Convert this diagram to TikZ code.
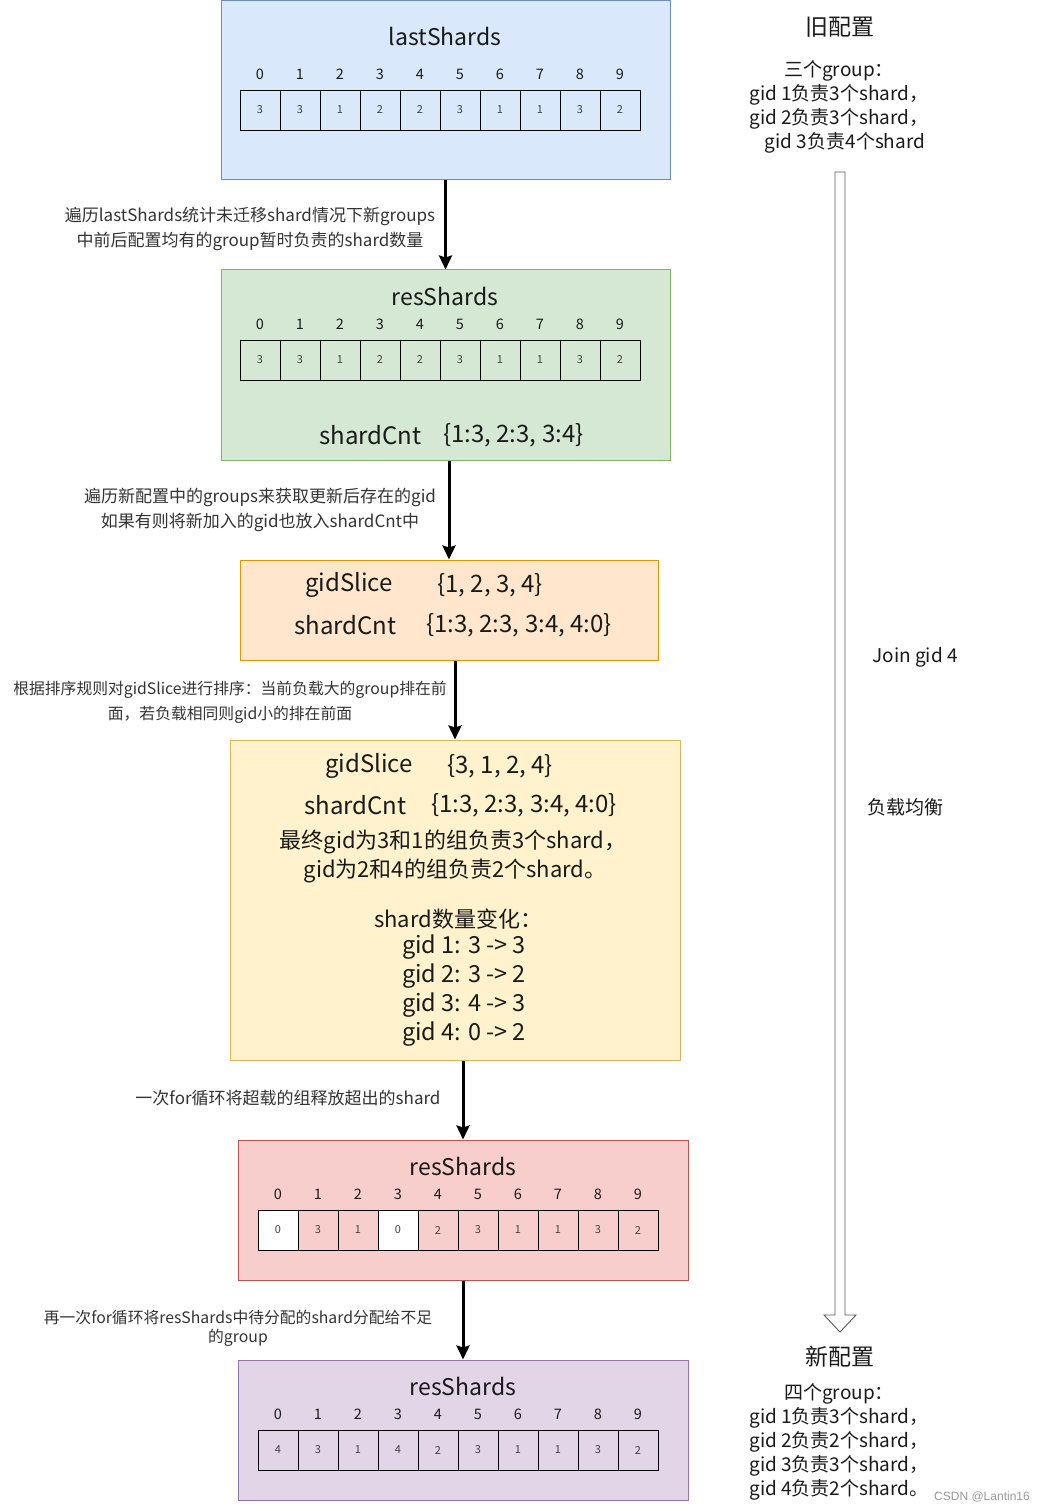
\documentclass[tikz,border=0pt]{standalone}
\usepackage{fontspec}
\setmainfont{Noto Sans CJK SC}
\newfontfamily\wmfont{Liberation Sans}
\usetikzlibrary{arrows.meta}
\definecolor{bluef}{HTML}{DAE8FC}\definecolor{blued}{HTML}{6C8EBF}
\definecolor{greenf}{HTML}{D5E8D4}\definecolor{greend}{HTML}{82B366}
\definecolor{orangef}{HTML}{FFE6CC}\definecolor{oranged}{HTML}{D79B00}
\definecolor{yellowf}{HTML}{FFF2CC}\definecolor{yellowd}{HTML}{D6B656}
\definecolor{redf}{HTML}{F8CECC}\definecolor{redd}{HTML}{B85450}
\definecolor{purplef}{HTML}{E1D5E7}\definecolor{purpled}{HTML}{9673A6}
\definecolor{txt}{HTML}{1A1A1A}
\newcommand{\fs}[1]{\fontsize{#1}{#1}\selectfont}
\newcommand{\shardrow}[4]{%
  \foreach \v/\f [count=\i from 0] in {#4} {
    \node[cell,fill=\f] (#1c\i) at ({#2+20+40*\i},{#3+20}) {\v};
    \node[idx] (#1i\i) at ({#2+20+40*\i},{#3-16}) {\i};
  }}
\begin{document}
\begin{tikzpicture}[x=1pt,y=-1pt,
  box/.style={draw,line width=1pt,inner sep=0pt},
  cell/.style={draw=black,line width=0.9pt,minimum width=40pt,minimum height=40pt,inner sep=0pt,font=\fs{11},text=black!75},
  idx/.style={inner sep=0pt,font=\fs{14.5},text=txt},
  ttl/.style={inner sep=0pt,font=\fs{23},text=txt},
  big/.style={inner sep=0pt,font=\fs{24},text=txt,anchor=west},
  cjkl/.style={inner sep=0pt,font=\fs{22},text=txt},
  gidl/.style={inner sep=0pt,font=\fs{23.5},text=txt},
  lbl/.style={inner sep=0pt,font=\fs{17},text=black!80},
  lbls/.style={inner sep=0pt,font=\fs{15.8},text=black!80},
  side/.style={inner sep=0pt,font=\fs{19},text=txt},
  flow/.style={line width=3pt,-{Stealth[length=14pt,width=13pt,inset=2pt]}}]
\useasboundingbox (0,0) rectangle (1050,1511);
\fill[white] (0,0) rectangle (1050,1511);

% boxes
\node[box,fill=bluef,draw=blued,minimum width=449pt,minimum height=179pt] (b1) at (445.5,90.5) {};
\node[box,fill=greenf,draw=greend,minimum width=449pt,minimum height=190pt] (b2) at (445.5,365) {};
\node[box,fill=orangef,draw=oranged,minimum width=418pt,minimum height=100pt] (b3) at (449,610) {};
\node[box,fill=yellowf,draw=yellowd,minimum width=450pt,minimum height=320pt] (b4) at (455,900) {};
\node[box,fill=redf,draw=redd,minimum width=450pt,minimum height=140pt] (b5) at (463,1210) {};
\node[box,fill=purplef,draw=purpled,minimum width=450pt,minimum height=140pt] (b6) at (463,1430) {};

% box 1
\node[ttl] (t1) at (445,36) {lastShards};
\shardrow{r1}{240}{90}{3/none,3/none,1/none,2/none,2/none,3/none,1/none,1/none,3/none,2/none}

% box 2
\node[ttl] (t2) at (445,296) {resShards};
\shardrow{r2}{240}{340}{3/none,3/none,1/none,2/none,2/none,3/none,1/none,1/none,3/none,2/none}
\node[big] (k2) at (319,435) {shardCnt};
\node[big] (v2) at (443,435) {\{1:3, 2:3, 3:4\}};

% box 3
\node[big] (k3a) at (305,585) {gidSlice};
\node[big] (v3a) at (437,585) {\{1, 2, 3, 4\}};
\node[big] (k3b) at (294,625) {shardCnt};
\node[big] (v3b) at (426,625) {\{1:3, 2:3, 3:4, 4:0\}};

% box 4
\node[big] (k4a) at (325,766) {gidSlice};
\node[big] (v4a) at (447,766) {\{3, 1, 2, 4\}};
\node[big] (k4b) at (304,805) {shardCnt};
\node[big] (v4b) at (431,805) {\{1:3, 2:3, 3:4, 4:0\}};
\node[cjkl] (l4a) at (453,842) {最终gid为3和1的组负责3个shard，};
\node[cjkl] (l4b) at (455,871) {gid为2和4的组负责2个shard。};
\node[cjkl] (l4c) at (458,919) {shard数量变化：};
\node[gidl] (l4d) at (464,947) {gid 1: 3 -> 3};
\node[gidl] (l4e) at (464,976) {gid 2: 3 -> 2};
\node[gidl] (l4f) at (464,1005) {gid 3: 4 -> 3};
\node[gidl] (l4g) at (464,1034) {gid 4: 0 -> 2};

% box 5
\node[ttl] (t5) at (463,1166) {resShards};
\shardrow{r5}{258}{1210}{0/white,3/none,1/none,0/white,2/none,3/none,1/none,1/none,3/none,2/none}

% box 6
\node[ttl] (t6) at (463,1386) {resShards};
\shardrow{r6}{258}{1430}{4/none,3/none,1/none,4/none,2/none,3/none,1/none,1/none,3/none,2/none}

% flow arrows
\draw[flow] (b1.south) -- (b2.north);
\draw[flow] (b2.south -| b3.north) -- (b3.north);
\draw[flow] (b3.south -| b4.north) -- (b4.north);
\draw[flow] (b4.south -| b5.north) -- (b5.north);
\draw[flow] (b5.south) -- (b6.north);

% arrow labels
\node[lbl] (a1a) at (250,216) {遍历lastShards统计未迁移shard情况下新groups};
\node[lbl] (a1b) at (250,241) {中前后配置均有的group暂时负责的shard数量};
\node[lbl] (a2a) at (260,497) {遍历新配置中的groups来获取更新后存在的gid};
\node[lbl] (a2b) at (260,522) {如果有则将新加入的gid也放入shardCnt中};
\node[lbls] (a3a) at (230,690) {根据排序规则对gidSlice进行排序：当前负载大的group排在前};
\node[lbls] (a3b) at (230,715) {面，若负载相同则gid小的排在前面};
\node[lbl] (a4a) at (288,1098) {一次for循环将超载的组释放超出的shard};
\node[lbls] (a5a) at (238,1318) {再一次for循环将resShards中待分配的shard分配给不足};
\node[lbls] (a5b) at (238,1338) {的group};

% right side
\node[ttl] (old) at (840,27) {旧配置};
\node[side] (o1) at (839,71) {三个group：};
\node[side] (o2) at (839,95) {gid 1负责3个shard，};
\node[side] (o3) at (839,119) {gid 2负责3个shard，};
\node[side] (o4) at (845,143) {gid 3负责4个shard};
\draw[line width=0.9pt,draw=black!65,fill=white,line join=miter]
  (835,172) -- (835,1315) -- (824,1315) -- (840,1332) -- (856,1315) -- (845,1315) -- (845,172) -- cycle;
\node[side] (join) at (915,657) {Join gid 4};
\node[side] (lb) at (905,807) {负载均衡};
\node[ttl] (new) at (840,1357) {新配置};
\node[side] (n1) at (839,1394) {四个group：};
\node[side] (n2) at (839,1418) {gid 1负责3个shard，};
\node[side] (n3) at (839,1442) {gid 2负责2个shard，};
\node[side] (n4) at (839,1466) {gid 3负责3个shard，};
\node[side] (n5) at (839,1490) {gid 4负责2个shard。};
\node[inner sep=0pt,font=\wmfont\fs{12},text=black!40] (wm) at (982,1497) {CSDN @Lantin16};
\end{tikzpicture}
\end{document}
